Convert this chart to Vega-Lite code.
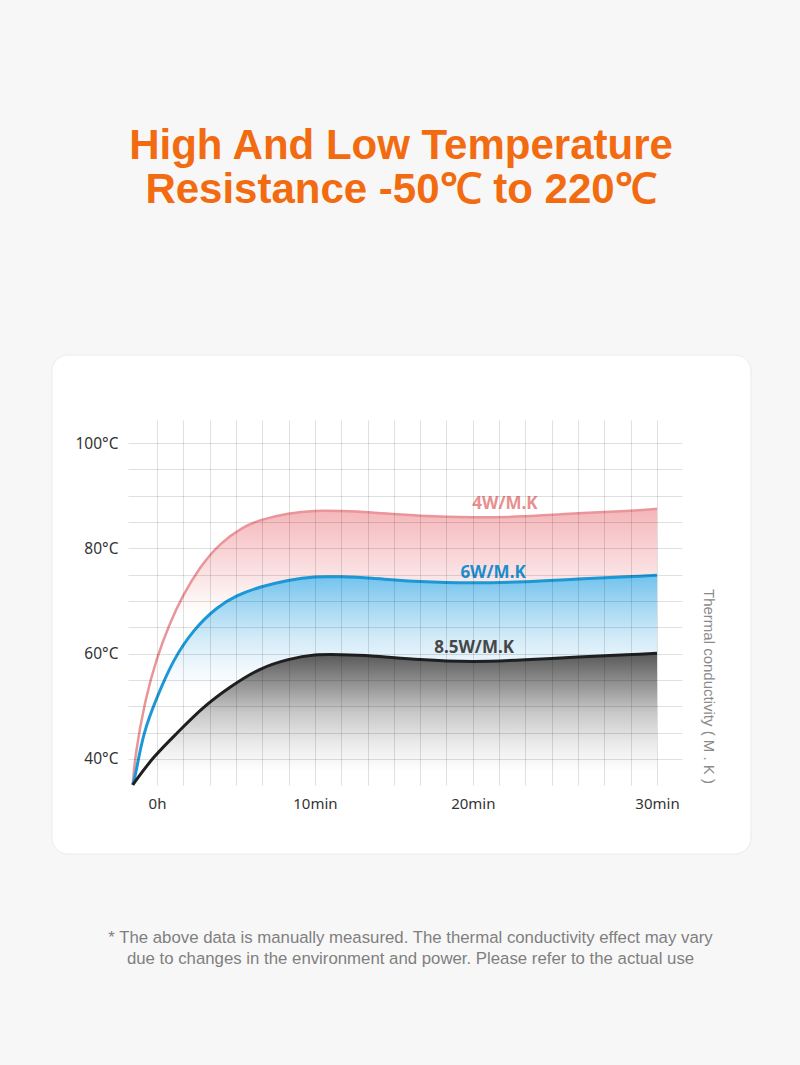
{
  "$schema": "https://vega.github.io/schema/vega-lite/v6.json",
  "width": 554,
  "height": 365,
  "autosize": "none",
  "padding": {"left": 128, "top": 420, "right": 118, "bottom": 280},
  "background": "#f7f7f7",
  "config": {"view": {"stroke": null}},
  "title": {
    "text": ["High And Low Temperature", "Resistance -50℃ to 220℃"],
    "font": "Liberation Sans",
    "fontSize": 42,
    "fontWeight": "bold",
    "color": "#f26b10",
    "anchor": "middle",
    "offset": 143,
    "dx": -4,
    "lineHeight": 44
  },
  "datasets": {
    "curves": [
      {"series": "4W/M.K", "x": -0.92, "y": 35.1},
      {"series": "4W/M.K", "x": -0.84, "y": 40.4},
      {"series": "4W/M.K", "x": -0.46, "y": 51.2},
      {"series": "4W/M.K", "x": 0, "y": 59.4},
      {"series": "4W/M.K", "x": 0.49, "y": 65.8},
      {"series": "4W/M.K", "x": 0.95, "y": 70.8},
      {"series": "4W/M.K", "x": 1.63, "y": 76.5},
      {"series": "4W/M.K", "x": 2.39, "y": 81.0},
      {"series": "4W/M.K", "x": 3.27, "y": 84.1},
      {"series": "4W/M.K", "x": 3.91, "y": 85.4},
      {"series": "4W/M.K", "x": 5, "y": 86.7},
      {"series": "4W/M.K", "x": 6, "y": 87.2},
      {"series": "4W/M.K", "x": 7, "y": 87.1},
      {"series": "4W/M.K", "x": 8, "y": 86.9},
      {"series": "4W/M.K", "x": 10, "y": 86.1},
      {"series": "4W/M.K", "x": 12, "y": 85.8},
      {"series": "4W/M.K", "x": 14, "y": 86.0},
      {"series": "4W/M.K", "x": 16, "y": 86.7},
      {"series": "4W/M.K", "x": 18, "y": 87.1},
      {"series": "4W/M.K", "x": 19, "y": 87.5},
      {"series": "6W/M.K", "x": -0.92, "y": 35.1},
      {"series": "6W/M.K", "x": -0.8, "y": 37.3},
      {"series": "6W/M.K", "x": -0.53, "y": 44.9},
      {"series": "6W/M.K", "x": 0, "y": 51.8},
      {"series": "6W/M.K", "x": 0.61, "y": 58.8},
      {"series": "6W/M.K", "x": 1.37, "y": 64.5},
      {"series": "6W/M.K", "x": 2.28, "y": 68.9},
      {"series": "6W/M.K", "x": 3.04, "y": 71.1},
      {"series": "6W/M.K", "x": 3.91, "y": 72.7},
      {"series": "6W/M.K", "x": 5, "y": 74.0},
      {"series": "6W/M.K", "x": 6, "y": 74.7},
      {"series": "6W/M.K", "x": 7, "y": 74.6},
      {"series": "6W/M.K", "x": 8, "y": 74.4},
      {"series": "6W/M.K", "x": 10, "y": 73.6},
      {"series": "6W/M.K", "x": 12, "y": 73.4},
      {"series": "6W/M.K", "x": 14, "y": 73.6},
      {"series": "6W/M.K", "x": 16, "y": 74.2},
      {"series": "6W/M.K", "x": 18, "y": 74.6},
      {"series": "6W/M.K", "x": 19, "y": 74.9},
      {"series": "8.5W/M.K", "x": -0.92, "y": 35.1},
      {"series": "8.5W/M.K", "x": -0.15, "y": 40.4},
      {"series": "8.5W/M.K", "x": 0.76, "y": 44.9},
      {"series": "8.5W/M.K", "x": 1.75, "y": 49.9},
      {"series": "8.5W/M.K", "x": 2.77, "y": 53.7},
      {"series": "8.5W/M.K", "x": 3.91, "y": 57.3},
      {"series": "8.5W/M.K", "x": 5, "y": 59.0},
      {"series": "8.5W/M.K", "x": 6, "y": 59.9},
      {"series": "8.5W/M.K", "x": 7, "y": 59.8},
      {"series": "8.5W/M.K", "x": 8, "y": 59.7},
      {"series": "8.5W/M.K", "x": 10, "y": 58.8},
      {"series": "8.5W/M.K", "x": 12, "y": 58.4},
      {"series": "8.5W/M.K", "x": 14, "y": 58.8},
      {"series": "8.5W/M.K", "x": 16, "y": 59.4},
      {"series": "8.5W/M.K", "x": 18, "y": 59.8},
      {"series": "8.5W/M.K", "x": 19, "y": 60.1}
    ],
    "labels": [
      {"label": "4W/M.K", "x": 13.22, "y": 87.5},
      {"label": "6W/M.K", "x": 12.77, "y": 74.4},
      {"label": "8.5W/M.K", "x": 12.05, "y": 60.1}
    ]
  },
  "data": {"name": "curves"},
  "resolve": {"axis": {"x": "independent", "y": "independent"}},
  "layer": [
    {
      "data": {"values": [{}]},
      "mark": {"type": "rect", "fill": "#cfcfcf", "cornerRadius": 16, "xOffset": 1.5, "yOffset": 2.5, "opacity": 0.8},
      "encoding": {
        "x": {"datum": -3.99, "type": "quantitative", "scale": {"domain": [-1.102, 19.95], "nice": false, "zero": false}, "axis": null},
        "x2": {"datum": 22.57},
        "y": {"datum": 116.71, "type": "quantitative", "scale": {"domain": [35.06, 104.37], "nice": false, "zero": false}, "axis": null},
        "y2": {"datum": 21.96}
      }
    },
    {
      "data": {"values": [{}]},
      "mark": {"type": "rect", "fill": "#ffffff", "cornerRadius": 16, "stroke": "#ececec", "strokeWidth": 1},
      "encoding": {
        "x": {"datum": -3.99, "type": "quantitative", "scale": {"domain": [-1.102, 19.95], "nice": false, "zero": false}, "axis": null},
        "x2": {"datum": 22.57},
        "y": {"datum": 116.71, "type": "quantitative", "scale": {"domain": [35.06, 104.37], "nice": false, "zero": false}, "axis": null},
        "y2": {"datum": 21.96}
      }
    },
    {
      "transform": [{"filter": "datum.series === '4W/M.K'"}],
      "mark": {
        "type": "area",
        "interpolate": "basis",
        "color": {
          "gradient": "linear", "x1": 0, "y1": 0, "x2": 0, "y2": 1,
          "stops": [
            {"offset": 0, "color": "#f4b6ba"},
            {"offset": 0.12, "color": "#f8cdd0"},
            {"offset": 0.25, "color": "#fbe5e6"},
            {"offset": 0.38, "color": "#ffffff"},
            {"offset": 1, "color": "#ffffff"}
          ]
        }
      },
      "encoding": {
        "x": {"field": "x", "type": "quantitative", "scale": {"domain": [-1.102, 19.95], "nice": false, "zero": false}, "axis": null},
        "y": {
          "field": "y", "type": "quantitative",
          "scale": {"domain": [35.06, 104.37], "nice": false, "zero": false},
          "axis": {
            "values": [40,45,50,55,60,65,70,75,80,85,90,95,100],
            "labelExpr": "datum.value % 20 === 0 ? datum.value + '°C' : ''",
            "grid": true, "gridColor": "#000000", "gridOpacity": 0.12, "gridWidth": 1,
            "domain": false, "ticks": false, "tickSize": 0,
            "labelPadding": 10, "labelFont": "Noto Sans", "labelFontSize": 15.5, "labelColor": "#333333",
            "labelOverlap": false,
            "zindex": 1,
            "title": null
          }
        },
        "y2": {"datum": 35.06}
      }
    },
    {
      "transform": [{"filter": "datum.series === '6W/M.K'"}],
      "mark": {
        "type": "area",
        "interpolate": "basis",
        "color": {
          "gradient": "linear", "x1": 0, "y1": 0, "x2": 0, "y2": 1,
          "stops": [
            {"offset": 0, "color": "#72c2ed"},
            {"offset": 0.15, "color": "#a5d8f3"},
            {"offset": 0.3, "color": "#d3ebf8"},
            {"offset": 0.45, "color": "#f2f9fd"},
            {"offset": 0.55, "color": "#ffffff"},
            {"offset": 1, "color": "#ffffff"}
          ]
        }
      },
      "encoding": {
        "x": {"field": "x", "type": "quantitative", "scale": {"domain": [-1.102, 19.95], "nice": false, "zero": false}, "axis": null},
        "y": {"field": "y", "type": "quantitative", "scale": {"domain": [35.06, 104.37], "nice": false, "zero": false}, "axis": null},
        "y2": {"datum": 35.06}
      }
    },
    {
      "transform": [{"filter": "datum.series === '8.5W/M.K'"}],
      "mark": {
        "type": "area",
        "interpolate": "basis",
        "color": {
          "gradient": "linear", "x1": 0, "y1": 0, "x2": 0, "y2": 1,
          "stops": [
            {"offset": 0, "color": "#575757"},
            {"offset": 0.2, "color": "#8a8a8a"},
            {"offset": 0.45, "color": "#c8c8c8"},
            {"offset": 0.7, "color": "#ececec"},
            {"offset": 0.9, "color": "#ffffff"},
            {"offset": 1, "color": "#ffffff"}
          ]
        }
      },
      "encoding": {
        "x": {"field": "x", "type": "quantitative", "scale": {"domain": [-1.102, 19.95], "nice": false, "zero": false}, "axis": null},
        "y": {"field": "y", "type": "quantitative", "scale": {"domain": [35.06, 104.37], "nice": false, "zero": false}, "axis": null},
        "y2": {"datum": 35.06}
      }
    },
    {
      "transform": [{"filter": "datum.series === '4W/M.K'"}],
      "mark": {"type": "line", "interpolate": "basis", "stroke": "#e99599", "strokeWidth": 2.5},
      "encoding": {
        "x": {"field": "x", "type": "quantitative", "scale": {"domain": [-1.102, 19.95], "nice": false, "zero": false}, "axis": null},
        "y": {"field": "y", "type": "quantitative", "scale": {"domain": [35.06, 104.37], "nice": false, "zero": false}, "axis": null}
      }
    },
    {
      "transform": [{"filter": "datum.series === '6W/M.K'"}],
      "mark": {"type": "line", "interpolate": "basis", "stroke": "#1b98d5", "strokeWidth": 3},
      "encoding": {
        "x": {"field": "x", "type": "quantitative", "scale": {"domain": [-1.102, 19.95], "nice": false, "zero": false}, "axis": null},
        "y": {"field": "y", "type": "quantitative", "scale": {"domain": [35.06, 104.37], "nice": false, "zero": false}, "axis": null}
      }
    },
    {
      "transform": [{"filter": "datum.series === '8.5W/M.K'"}],
      "mark": {"type": "line", "interpolate": "basis", "stroke": "#1f1f1f", "strokeWidth": 3},
      "encoding": {
        "x": {"field": "x", "type": "quantitative", "scale": {"domain": [-1.102, 19.95], "nice": false, "zero": false}, "axis": null},
        "y": {"field": "y", "type": "quantitative", "scale": {"domain": [35.06, 104.37], "nice": false, "zero": false}, "axis": null}
      }
    },
    {
      "data": {"name": "labels"},
      "mark": {"type": "text", "font": "Noto Sans", "fontSize": 17, "fontWeight": "bold", "align": "center", "baseline": "alphabetic"},
      "encoding": {
        "x": {
          "field": "x", "type": "quantitative",
          "scale": {"domain": [-1.102, 19.95], "nice": false, "zero": false},
          "axis": {
            "orient": "bottom",
            "values": [0,1,2,3,4,5,6,7,8,9,10,11,12,13,14,15,16,17,18,19],
            "labelExpr": "datum.value === 0 ? '0h' : datum.value === 6 ? '10min' : datum.value === 12 ? '20min' : datum.value === 19 ? '30min' : ''",
            "grid": true, "gridColor": "#000000", "gridOpacity": 0.12, "gridWidth": 1,
            "domain": false, "ticks": false, "tickSize": 0,
            "labelPadding": 11, "labelFont": "Noto Sans", "labelFontSize": 15, "labelColor": "#333333",
            "labelOverlap": false, "labelFlush": false,
            "zindex": 1,
            "title": ["* The above data is manually measured. The thermal conductivity effect may vary", "due to changes in the environment and power. Please refer to the actual use"],
            "titleFont": "Liberation Sans", "titleFontSize": 16.8, "titleFontWeight": "normal", "titleColor": "#7f7f7f",
            "titleLineHeight": 21, "titlePadding": 118, "titleX": 282, "titleAlign": "center"
          }
        },
        "y": {
          "field": "y", "type": "quantitative",
          "scale": {"domain": [35.06, 104.37], "nice": false, "zero": false},
          "axis": {
            "orient": "right", "grid": false, "labels": false, "ticks": false, "domain": false,
            "zindex": 1,
            "title": "Thermal conductivity ( M . K )",
            "titleFont": "Liberation Sans", "titleFontSize": 15, "titleFontWeight": "normal", "titleColor": "#8a8a8a",
            "titleAngle": 90, "titleX": 26, "titleY": 266, "titleAlign": "center", "titleBaseline": "middle"
          }
        },
        "text": {"field": "label"},
        "color": {
          "field": "label", "type": "nominal",
          "scale": {"domain": ["4W/M.K", "6W/M.K", "8.5W/M.K"], "range": ["#e8908f", "#1a8fd0", "#474747"]},
          "legend": null
        }
      }
    }
  ]
}
